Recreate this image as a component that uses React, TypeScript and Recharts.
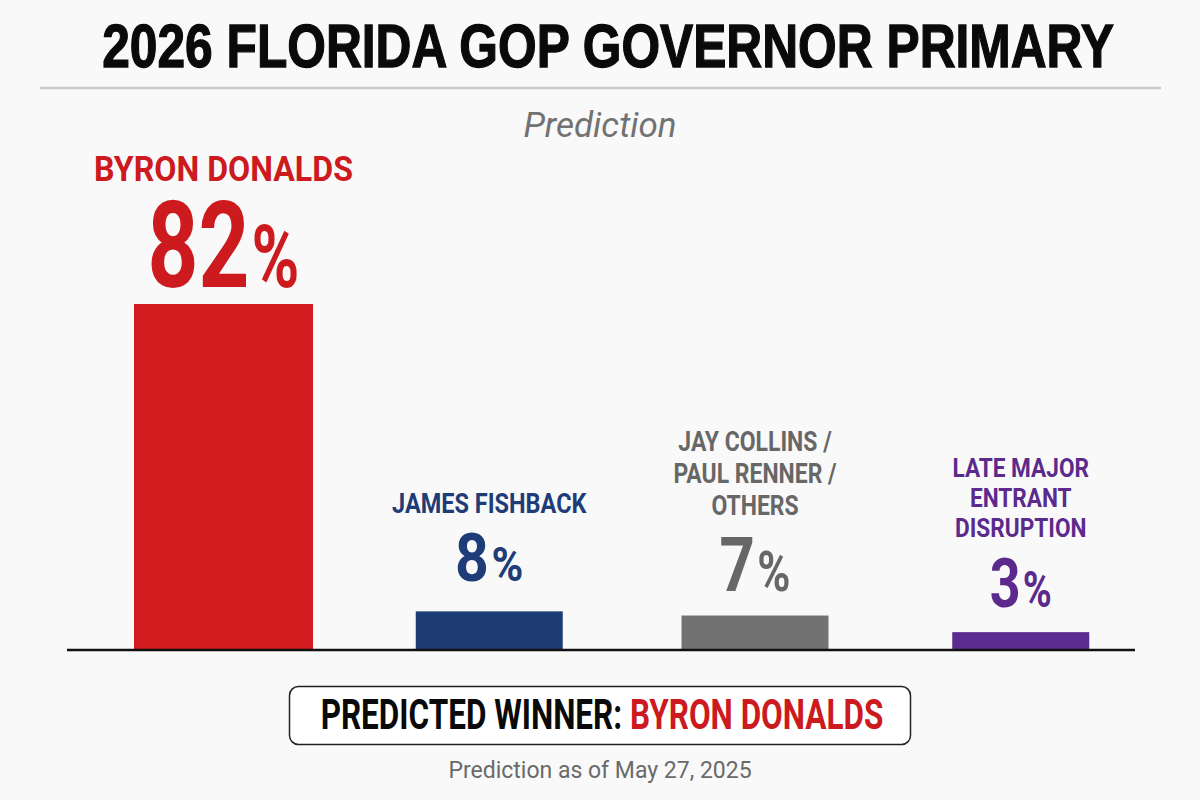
import React from 'react';
import { BarChart, Bar, XAxis, YAxis, LabelList } from 'recharts';

// Candidate names (line breaks mark where a long label wraps) and predicted shares
const CANDIDATES = [
  'BYRON DONALDS',
  'JAMES FISHBACK',
  'JAY COLLINS /\nPAUL RENNER /\nOTHERS',
  'LATE MAJOR\nENTRANT\nDISRUPTION',
];
const SHARES = [82, 8, 7, 3];

const TITLE = '2026 FLORIDA GOP GOVERNOR PRIMARY';
const SUBTITLE = 'Prediction';
const WINNER_PREFIX = 'PREDICTED WINNER: ';
const WINNER_NAME = 'BYRON DONALDS';
const AS_OF = 'Prediction as of May 27, 2025';

const data = CANDIDATES.map((name, i) => ({ name, share: SHARES[i] }));

const W = 1200;
const H = 800;
const MARGIN = { top: 304, right: 46, bottom: 150, left: 91 };
const PLOT_BOTTOM = H - MARGIN.bottom;

const HEAVY = '"Liberation Sans", Arial, sans-serif';
const SANS = 'Roboto, "Noto Sans", sans-serif';

// Per-bar appearance; the condensed look comes from a horizontal squeeze (sx)
const BAR_STYLES = [
  { fill: '#d11b1e', text: '#cc1a1e', width: 179, nameSize: 35, nameSx: 0.92, pctSize: 120, pctSx: 0.74, gap: 17, lineHeight: 34 },
  { fill: '#1d3b74', text: '#1e3c77', width: 147, nameSize: 27, nameSx: 0.87, pctSize: 67, pctSx: 0.88, gap: 30, lineHeight: 31 },
  { fill: '#727272', text: '#676767', width: 147, nameSize: 27, nameSx: 0.85, pctSize: 76, pctSx: 0.81, gap: 25, lineHeight: 32 },
  { fill: '#5c2b90', text: '#5b2a8c', width: 137, nameSize: 26, nameSx: 0.87, pctSize: 69, pctSx: 0.78, gap: 25, lineHeight: 30 },
];

// Bars run from the axis baseline up to the scaled value
const BarShape = (props: any) => {
  const { x, y, width, index } = props;
  const s = BAR_STYLES[index];
  const cx = x + width / 2;
  return <rect x={cx - s.width / 2} y={y} width={s.width} height={PLOT_BOTTOM - y} fill={s.fill} />;
};

// Candidate name and share stacked above each bar
const BarLabel = (props: any) => {
  const { index, value } = props;
  const vb = props.viewBox ?? props;
  const s = BAR_STYLES[index];
  const cx = vb.x + vb.width / 2;
  const top = Math.min(vb.y, vb.y + vb.height);
  const pctBase = top - s.gap;
  const nameBase = pctBase - s.pctSize * 0.711 - 21;
  const lines = CANDIDATES[index].split('\n');
  return (
    <g fontFamily={SANS} fontWeight={700} fill={s.text}>
      <g transform={`translate(${cx} 0) scale(${s.nameSx} 1)`}>
        {lines.map((line, k) => (
          <text
            key={k}
            x={0}
            y={nameBase - (lines.length - 1 - k) * s.lineHeight}
            textAnchor="middle"
            fontSize={s.nameSize}
          >
            {line}
          </text>
        ))}
      </g>
      <g transform={`translate(${cx} 0) scale(${s.pctSx} 1)`}>
        <text x={0} y={pctBase} textAnchor="middle" fontSize={s.pctSize}>
          {value}
          <tspan fontSize={s.pctSize * 0.73} dx={3}>%</tspan>
        </text>
      </g>
    </g>
  );
};

export default function App() {
  return (
    <div style={{ position: 'absolute', left: 0, top: 0, width: W, height: H, background: '#f9f9f9' }}>
      <BarChart width={W} height={H} data={data} margin={MARGIN} barSize={179}>
        <XAxis dataKey="name" hide />
        <YAxis hide domain={[-1.3, 'dataMax']} />
        <Bar dataKey="share" shape={BarShape} isAnimationActive={false}>
          <LabelList dataKey="share" content={BarLabel} />
        </Bar>
      </BarChart>
      <svg
        width={W}
        height={H}
        style={{ position: 'absolute', left: 0, top: 0, pointerEvents: 'none' }}
      >
        <g transform="translate(608 0) scale(0.815 1)">
          <text
            x={0}
            y={67}
            textAnchor="middle"
            fontFamily={HEAVY}
            fontWeight={700}
            fontSize={61}
            fill="#0a0a0a"
            stroke="#0a0a0a"
            strokeWidth={1.3}
          >
            {TITLE}
          </text>
        </g>
        <line x1={40} x2={1161} y1={88} y2={88} stroke="#c8c8c8" strokeWidth={2.5} />
        <text
          x={600}
          y={137}
          textAnchor="middle"
          fontFamily={SANS}
          fontStyle="italic"
          fontSize={35}
          fill="#727272"
        >
          {SUBTITLE}
        </text>

        <line x1={67} x2={1135} y1={650} y2={650} stroke="#111" strokeWidth={2.5} />

        <rect x={289.5} y={686.5} width={621} height={58} rx={9} fill="#ffffff" stroke="#222" strokeWidth={1.5} />
        <g transform="translate(602 0) scale(0.75 1)">
          <text
            x={0}
            y={729}
            textAnchor="middle"
            fontFamily={SANS}
            fontWeight={700}
            fontSize={42}
            fill="#0a0a0a"
          >
            {WINNER_PREFIX}
            <tspan fill="#cc1a1e">{WINNER_NAME}</tspan>
          </text>
        </g>
        <text
          x={600}
          y={778}
          textAnchor="middle"
          fontFamily={SANS}
          fontSize={23}
          fill="#6a6a6a"
        >
          {AS_OF}
        </text>
      </svg>
    </div>
  );
}
